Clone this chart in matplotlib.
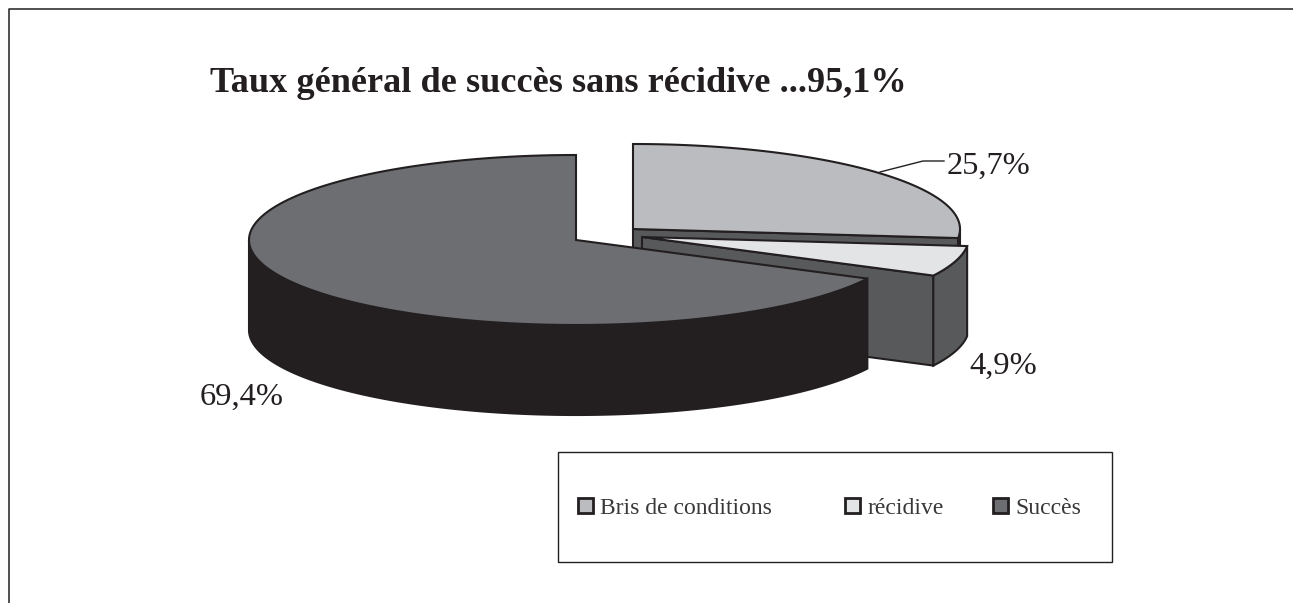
import numpy as np
import matplotlib
matplotlib.use('Agg')
import matplotlib.pyplot as plt
from matplotlib.patches import Polygon, Rectangle

title = 'Taux général de succès sans récidive ...95,1%'
categories = ['Bris de conditions', 'récidive', 'Succès']
values = [25.7, 4.9, 69.4]
# shares as they come out on the drawn pie, the 3d view stretches the angles
drawn_shares = [26.7, 5.8, 67.5]

top_colors = ['#bbbcbf', '#e3e4e6', '#6d6e71']
side_colors = ['#58595b', '#58595b', '#231f20']
show_cut = [True, True, False]  # the big slice has no cut face turned to the viewer
edge = '#231f20'
lw = 1.5

# pie geometry, in pixels of the page
centers = [(633, 229), (642, 237), (576, 240)]
rx = 327
ry = 85
depth = 90

plt.rcParams['font.family'] = ['Liberation Serif', 'DejaVu Serif']

fig = plt.figure(figsize=(12.93, 6.03), dpi=100)
ax = fig.add_axes([0, 0, 1, 1])
ax.set_xlim(0, 1293)
ax.set_ylim(603, 0)
ax.axis('off')


def rim(center, t0, t1):
    t = np.radians(np.linspace(t0, t1, 300))
    return np.column_stack([center[0] + rx * np.cos(t), center[1] - ry * np.sin(t)])


def draw_slice(center, t0, t1, top, side, cut, z):
    # t0 > t1, going clockwise on the page
    c = np.array(center, dtype=float)
    down = np.array([0, depth])
    outer = rim(center, t0, t1)

    # flat cut from the centre out to the end of the slice
    if cut:
        end = outer[-1]
        ax.add_patch(Polygon([c, end, end + down, c + down], closed=True, fc=side, ec=edge, lw=lw, zorder=z))

    # outer wall, only the part turned towards the viewer
    ts = np.linspace(t0, t1, 600)
    front = ts[np.sin(np.radians(ts)) <= 0]
    wall = rim(center, front[0], front[-1])
    ax.add_patch(Polygon(np.vstack([wall, (wall + down)[::-1]]), closed=True, fc=side, ec=edge, lw=lw,
                         zorder=z + 0.1))

    ax.add_patch(Polygon(np.vstack([c, outer]), closed=True, fc=top, ec=edge, lw=lw, zorder=z + 0.2))


start = 90.0
for i in range(len(values)):
    sweep = drawn_shares[i] * 3.6
    draw_slice(centers[i], start, start - sweep, top_colors[i], side_colors[i], show_cut[i], 1 + i)
    start -= sweep

# value labels
label_xy = [(947, 166), (969, 366), (200, 397)]
for v, (x, y) in zip(values, label_xy):
    ax.text(x, y, ('%.1f%%' % v).replace('.', ','), fontsize=23.4, color=edge, va='center', ha='left', zorder=8)
ax.plot([880, 923, 944], [172, 161, 161], color=edge, lw=1, zorder=0.5)

ax.text(210, 83, title, fontsize=26.1, fontweight='bold', color=edge, va='center', ha='left')

# legend box
ax.add_patch(Rectangle((558, 452), 554, 110, fc='white', ec=edge, lw=1))
swatch_x = [578, 845, 993]
for x, name, col in zip(swatch_x, categories, top_colors):
    ax.add_patch(Rectangle((x, 498), 15, 15, fc=col, ec=edge, lw=2, zorder=5))
    ax.text(x + 22, 508, name, fontsize=17, color='#3a3738', va='center', ha='left')

# page frame
ax.plot([8.5, 8.5, 1293], [603, 9, 9], color=edge, lw=1.1)

fig.savefig('out.png', dpi=100)
